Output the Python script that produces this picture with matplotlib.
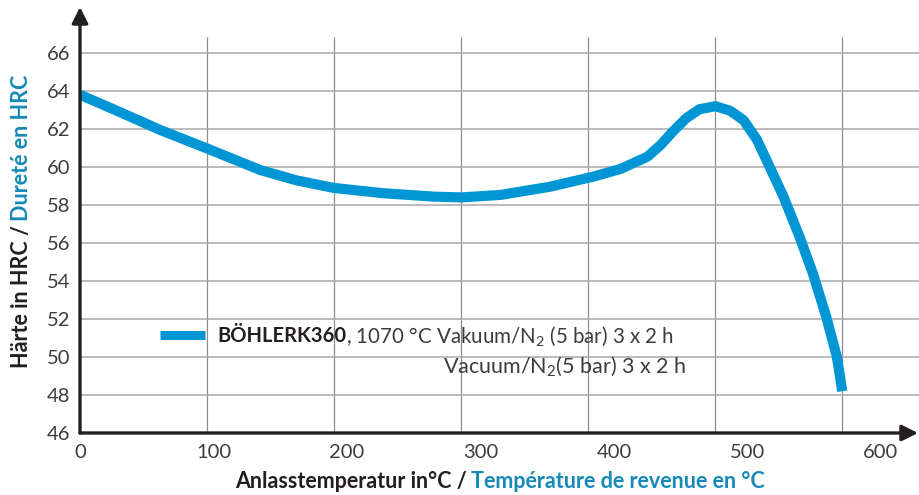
#! /usr/bin/env python3

"""Tempering curve for BÖHLER K360 (hardness vs tempering temperature)"""

import numpy as np
import matplotlib
matplotlib.use('Agg')
import matplotlib.pyplot as plt

plt.rcParams['font.family'] = ['Lato', 'DejaVu Sans']
plt.rcParams['mathtext.fontset'] = 'custom'
plt.rcParams['mathtext.rm'] = 'Lato'

# Tempering temperature (deg C) and hardness (HRC)
temp = [0, 25, 60, 95, 135, 162, 190, 227, 265, 286, 315, 352, 385, 405, 425,
        435, 444, 454, 464, 476, 487, 497, 507, 514, 527, 539, 549, 559, 567, 571]
hrc = [63.8, 63.04, 61.95, 60.98, 59.84, 59.3, 58.9, 58.62, 58.44, 58.4, 58.53,
       58.96, 59.5, 59.9, 60.54, 61.16, 61.86, 62.56, 63.04, 63.2, 62.96, 62.47,
       61.45, 60.4, 58.44, 56.33, 54.4, 52.12, 50.0, 48.2]

xticks = [0, 100, 200, 300, 400, 500, 600]
yticks = [46, 48, 50, 52, 54, 56, 58, 60, 62, 64, 66]

ink = '#231f20'
grey = '#3c3c3c'
blue = '#0096d6'
textblue = '#1689b8'

W, H = 919, 495
fig = plt.figure(figsize=(W / 100, H / 100), dpi=100)
ax = fig.add_axes([80 / W, 62 / H, 839 / W, 426 / H])
ax.set_xlim(0, 628.5)
ax.set_ylim(46, 68.42)

for s in ax.spines.values():
    s.set_visible(False)

# grid: vertical lines are spaced a little tighter than the labels
for gx in np.arange(1, 7) * 95.15:
    ax.vlines(gx, 46, 66.84, color='#8c8c8c', lw=0.9, zorder=1)
for gy in yticks[1:]:
    ax.axhline(gy, color='#a8a8a8', lw=1.1, zorder=1)

ax.plot(temp, hrc, color=blue, lw=7.3, solid_capstyle='butt',
        solid_joinstyle='round', zorder=3)

ax.set_xticks(xticks)
ax.set_yticks(yticks)
ax.tick_params(length=0, labelsize=14.5, labelcolor=grey, pad=7)
ax.tick_params(axis='x', pad=8)

# axis lines with arrow heads
arrow = dict(arrowstyle='-|>', color=ink, lw=2.4, mutation_scale=24, shrinkA=0, shrinkB=0)
ax.annotate('', xy=(0, 1), xytext=(0, 0), xycoords='axes fraction', arrowprops=arrow, annotation_clip=False)
ax.annotate('', xy=(838 / 839, 0), xytext=(0, 0), xycoords='axes fraction', arrowprops=arrow, annotation_clip=False)

# axis titles, two languages in two colours
tsize = 15.5
fig.text(467 / W, 1 - 481 / H, 'Anlasstemperatur in°C /', ha='right', va='center',
         fontsize=tsize, color=ink, fontweight='bold')
fig.text(471 / W, 1 - 481 / H, 'Température de revenue en °C', ha='left', va='center',
         fontsize=tsize, color=textblue, fontweight='bold')
yl = fig.text(22 / W, 1 - 368 / H, 'Härte in HRC /', ha='center', va='bottom', rotation=90,
              fontsize=tsize, color=ink, fontweight='bold')

# legend
fig.add_artist(plt.Line2D([160 / W, 205 / W], [1 - 335 / H] * 2, color=blue, lw=6.5,
                          solid_capstyle='butt'))
t1 = fig.text(217 / W, 1 - 336 / H, 'BÖHLERK360', ha='left', va='center', fontsize=14.5,
              color=ink, fontweight='bold')
fig.canvas.draw()
yb = yl.get_window_extent()
fig.text(22 / W, (yb.y1 + 4) / H, 'Dureté en HRC', ha='center', va='bottom', rotation=90,
         fontsize=tsize, color=textblue, fontweight='bold')
bb = t1.get_window_extent()
fig.text(bb.x1 / W, 1 - 336 / H, r', 1070 °C Vakuum/$\mathregular{N_2}$ (5 bar) 3 x 2 h',
         ha='left', va='center', fontsize=14.8, color=grey)
fig.text(686 / W, 1 - 366 / H, r'Vacuum/$\mathregular{N_2}$(5 bar) 3 x 2 h',
         ha='right', va='center', fontsize=15.5, color=grey)

fig.savefig('out.png', dpi=100)
